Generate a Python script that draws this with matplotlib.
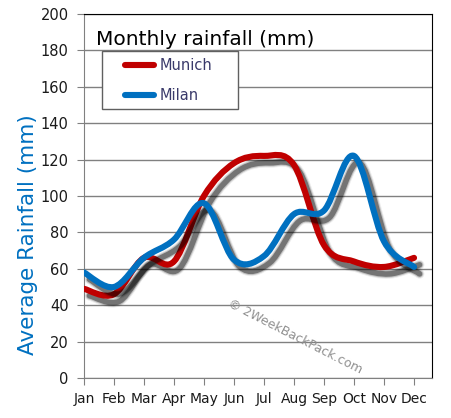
import matplotlib
matplotlib.use("Agg")
import matplotlib.pyplot as plt
import matplotlib.patheffects as pe
from matplotlib.path import Path
from matplotlib.patches import PathPatch, Rectangle
from matplotlib.lines import Line2D

months = ["Jan", "Feb", "Mar", "Apr", "May", "Jun", "Jul", "Aug", "Sep", "Oct", "Nov", "Dec"]
munich = [49, 46, 66, 64, 100, 118, 122, 117, 73, 64, 61, 66]
milan = [58, 50, 66, 76, 96, 65, 67, 90, 92, 122, 75, 61]

RED = "#c00000"
BLUE = "#0070c0"

plt.rcParams["font.family"] = ["DejaVu Sans"]


def smooth_path(xs, ys):
    # bezier segments through every data point (like excel "smoothed line")
    pts = list(zip(xs, ys))
    n = len(pts)
    verts = [pts[0]]
    codes = [Path.MOVETO]
    for i in range(n - 1):
        p0 = pts[max(i - 1, 0)]
        p1 = pts[i]
        p2 = pts[i + 1]
        p3 = pts[min(i + 2, n - 1)]
        c1 = (p1[0] + (p2[0] - p0[0]) / 6, p1[1] + (p2[1] - p0[1]) / 6)
        c2 = (p2[0] - (p3[0] - p1[0]) / 6, p2[1] - (p3[1] - p1[1]) / 6)
        verts += [c1, c2, p2]
        codes += [Path.CURVE4] * 3
    return Path(verts, codes)


shadow = [
    pe.Stroke(offset=(4, -5), linewidth=7, foreground="k", alpha=0.07),
    pe.Stroke(offset=(4, -5), linewidth=5.5, foreground="k", alpha=0.18),
    pe.Stroke(offset=(4, -5), linewidth=4, foreground="k", alpha=0.4),
    pe.Normal(),
]

fig = plt.figure(figsize=(4.51, 4.18), dpi=100)
ax = fig.add_axes([0.186, 0.0957, 0.772, 0.871])

x = list(range(len(months)))
for vals, col in [(munich, RED), (milan, BLUE)]:
    patch = PathPatch(smooth_path(x, vals), facecolor="none", edgecolor=col,
                      linewidth=4.4, capstyle="round", joinstyle="round", zorder=3)
    patch.set_path_effects(shadow)
    ax.add_patch(patch)

ax.set_xlim(0, 11.6)
ax.set_ylim(0, 200)
ax.set_xticks(x)
ax.set_xticklabels(months)
ax.set_yticks(range(0, 201, 20))
ax.yaxis.grid(True, color="#808080", linewidth=1)
ax.set_axisbelow(True)
ax.tick_params(colors="#808080", labelcolor="#1a1a1a", length=5, labelsize=10.5, pad=6)
ax.tick_params(axis="x", labelsize=10, pad=5)
for s in ["left", "bottom"]:
    ax.spines[s].set_color("#808080")
for s in ["top", "right"]:
    ax.spines[s].set_color("black")

fig.text(28 / 451, 1 - 235 / 418, "Average Rainfall (mm)", color=BLUE,
         fontsize=15.5, rotation=90, ha="center", va="center")

ax.text(0.035, 0.955, "Monthly rainfall (mm)", transform=ax.transAxes,
        fontsize=14.5, va="top", ha="left", color="black")

# legend box
ax.add_patch(Rectangle((0.0517, 0.739), 0.391, 0.159, transform=ax.transAxes,
                       facecolor="white", edgecolor="#606060", linewidth=1, zorder=4))
handles = [Line2D([], [], color=RED, linewidth=4.4, solid_capstyle="round"),
           Line2D([], [], color=BLUE, linewidth=4.4, solid_capstyle="round")]
leg = ax.legend(handles, ["Munich", "Milan"], loc="upper left",
                bbox_to_anchor=(0.118, 0.878), frameon=False,
                handlelength=2.0, handletextpad=0.35, borderpad=0,
                labelspacing=1.0, fontsize=10.5, borderaxespad=0)
leg.set_zorder(5)
for t in leg.get_texts():
    t.set_color("#3a3a6a")

ax.text(0.415, 0.205, "© 2WeekBackPack.com", transform=ax.transAxes,
        rotation=-27, rotation_mode="anchor", fontsize=9, color="#909090",
        ha="left", va="center")

fig.savefig("out.png", dpi=100)
